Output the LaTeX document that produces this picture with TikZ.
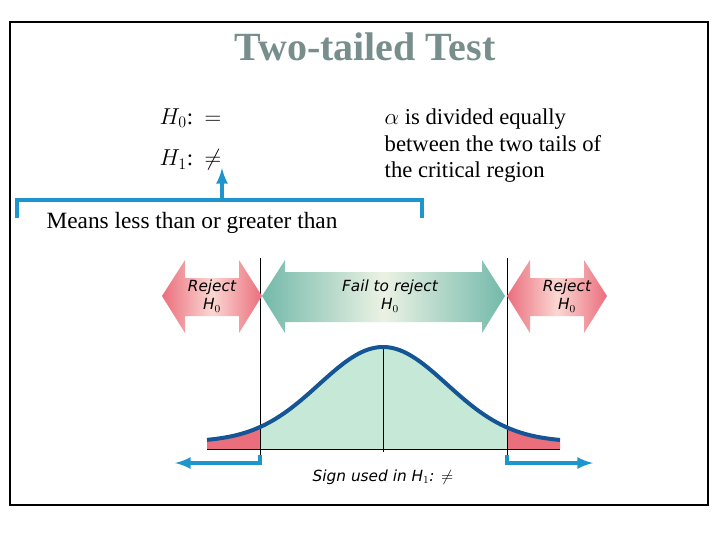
\documentclass[tikz,border=0pt]{standalone}
\usepackage{fontspec}
\setmainfont{Liberation Serif}
\newfontfamily\hand{DejaVu Sans}
\begin{document}
\begin{tikzpicture}[x=0.75pt,y=-0.75pt,
  declare function={g(\t)=exp(-(((\t-383)/64)^2)/2); cv(\t)=449-102*g(\t)-7*(1-g(\t));},
  blue line/.style={draw={rgb,255:red,30;green,150;blue,205},line width=3pt},
  vline/.style={draw=black,line width=0.6pt},
  lbl/.style={font=\hand\itshape\fontsize{11.5}{14}\selectfont,align=center},
  txt/.style={font=\fontsize{17}{19}\selectfont,anchor=west}]
\definecolor{titlec}{RGB}{120,142,140}
\definecolor{pinkd}{RGB}{235,110,125}
\definecolor{pinkl}{RGB}{250,215,210}
\definecolor{tealc}{RGB}{115,185,170}
\definecolor{teall}{RGB}{235,242,228}
\definecolor{areac}{RGB}{198,232,214}
\definecolor{curvec}{RGB}{20,85,150}
\useasboundingbox (0,0) rectangle (720,540);
\draw[line width=0.8pt] (10,22) rectangle (708,505);
\node[font=\bfseries\fontsize{30}{33}\selectfont,text=titlec] (title) at (365,47) {Two-tailed Test};
\node[txt] (h0) at (155,118) {$H_0$:\, $=$};
\node[txt] (h1) at (155,160) {$H_1$:\, $\neq$};
\node[txt,align=left,anchor=north west,font=\fontsize{17}{20}\selectfont] (alpha) at (380,104) {$\alpha$ is divided equally\\between the two tails of\\the critical region};
\node[font=\fontsize{17.5}{19}\selectfont] (means) at (192,223) {Means less than or greater than};
\coordinate (bl) at (17,218); \coordinate (br) at (422,218);
\draw[blue line] (bl) -- (17,200) -- (422,200) -- (br);
\coordinate (up) at (222,200);
\draw[blue line,-latex] (up) -- (222,168);
% areas
\fill[areac] (260,449) -- plot[domain=260:507,samples=60,smooth] (\x,{cv(\x)}) -- (507,449) -- cycle;
\fill[pinkd] (207,449) -- plot[domain=207:260,samples=20,smooth] (\x,{cv(\x)}) -- (260,449) -- cycle;
\fill[pinkd] (507,449) -- plot[domain=507:560,samples=20,smooth] (\x,{cv(\x)}) -- (560,449) -- cycle;
\draw[vline] (207,449) -- (560,449);
\draw[vline] (260,258) -- (260,462);
\draw[vline] (507,258) -- (507,462);
\draw[vline] (383,347) -- (383,452);
\draw[curvec,line width=3pt] plot[domain=207:560,samples=120,smooth] (\x,{cv(\x)});
% region arrows
\shade[left color=pinkd,right color=pinkd,middle color=pinkl] (162,296) -- (185,260) -- (185,278) -- (239,278) -- (239,260) -- (262,296) -- (239,333) -- (239,316) -- (185,316) -- (185,333) -- cycle;
\shade[left color=pinkd,right color=pinkd,middle color=pinkl] (507,296) -- (530,260) -- (530,278) -- (584,278) -- (584,260) -- (607,296) -- (584,333) -- (584,316) -- (530,316) -- (530,333) -- cycle;
\shade[left color=tealc,right color=tealc,middle color=teall] (262,296) -- (285,260) -- (285,272) -- (482,272) -- (482,260) -- (505,296) -- (482,333) -- (482,322) -- (285,322) -- (285,333) -- cycle;
\node[lbl] (rl) at (212,296) {Reject\\H$_0$};
\node[lbl] (fr) at (390,296) {Fail to reject\\H$_0$};
\node[lbl] (rr) at (567,296) {Reject\\H$_0$};
% bottom arrows
\coordinate (la) at (175,463); \coordinate (ra) at (593,463);
\draw[blue line,-latex] (260,455) -- (260,463) -- (la);
\draw[blue line,-latex] (507,455) -- (507,463) -- (ra);
\node[lbl] (sign) at (383,477) {Sign used in H$_1$: $\neq$};
\end{tikzpicture}
\end{document}
